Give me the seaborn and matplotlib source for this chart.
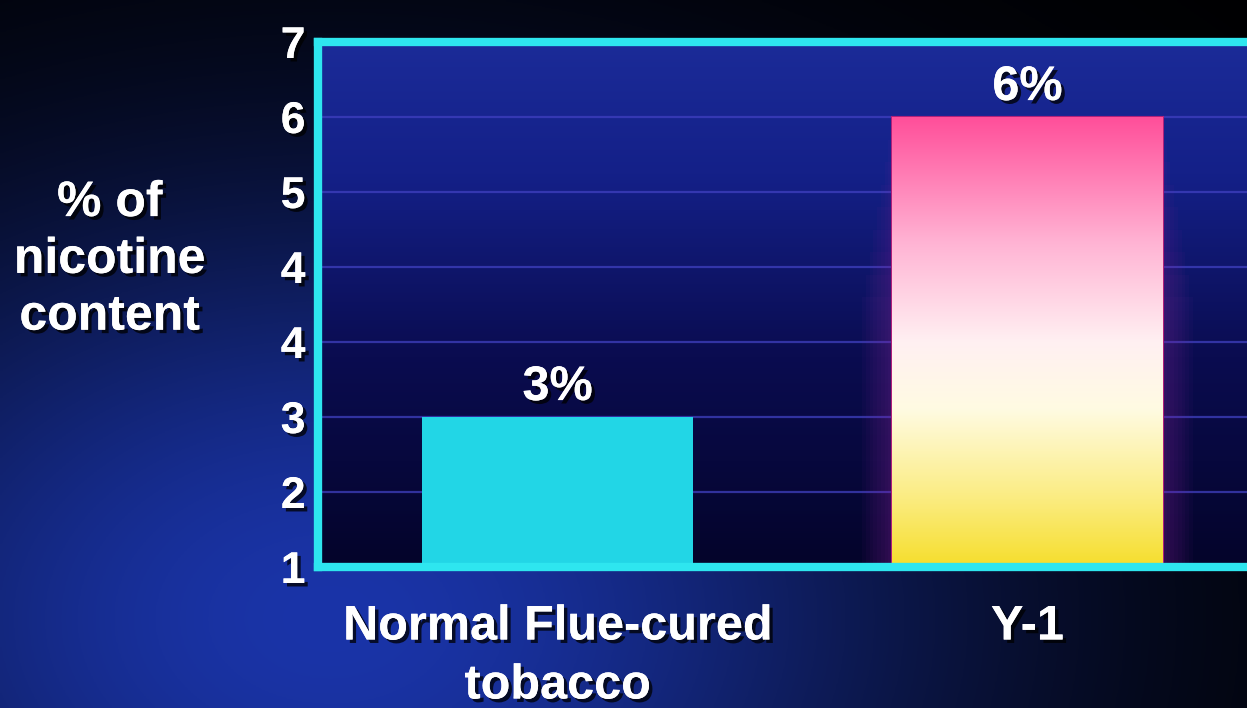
import numpy as np
import pandas as pd
import matplotlib
matplotlib.use("Agg")
import matplotlib.pyplot as plt
import matplotlib.patheffects as pe
from matplotlib.colors import LinearSegmentedColormap, to_rgb
import seaborn as sns

# data
CATEGORIES = ["Normal Flue-cured\ntobacco", "Y-1"]
NICOTINE_PCT = [3, 6]
BAR_LABELS = ["3%", "6%"]
Y_TICK_LABELS = ["1", "2", "3", "4", "4", "5", "6", "7"]
Y_LABEL = "% of\nnicotine\ncontent"

CYAN = "#2ee6ef"
BAR_COLORS = ["#22d6e6", "#ff5aa0"]

plt.rcParams["font.family"] = ["Liberation Sans", "DejaVu Sans"]
plt.rcParams["font.weight"] = "bold"

# the slide's axis is labelled 1,2,3,4,4,5,6,7 at even steps,
# so bars sit at the step of their label
positions = [Y_TICK_LABELS.index(str(v)) for v in NICOTINE_PCT]
df = pd.DataFrame({"tobacco": CATEGORIES, "level": positions})

shadow = [pe.withSimplePatchShadow(offset=(2.5, -2.5), shadow_rgbFace="black", alpha=0.75), pe.Normal()]

fig = plt.figure(figsize=(12.47, 7.08), dpi=100)

# background: blue glow lower-left fading to black
bg_ax = fig.add_axes([0, 0, 1, 1], zorder=-10)
gx, gy = np.meshgrid(np.linspace(0, 1247, 400), np.linspace(0, 708, 240))
w = np.exp(-(((gx - 330) / 620) ** 2 + ((gy - 620) / 430) ** 2))
blue = np.array(to_rgb("#1a34a8"))
bg = np.clip(w[..., None] * blue[None, None, :], 0, 1)
bg_ax.imshow(bg, extent=[0, 1, 0, 1], aspect="auto", origin="upper")
bg_ax.axis("off")

ax = fig.add_axes([318 / 1247, 141 / 708, (1300 - 318) / 1247, 525 / 708])
sns.barplot(
    data=df,
    x="tobacco",
    y="level",
    hue="tobacco",
    palette=BAR_COLORS,
    saturation=1,
    width=0.576,
    legend=False,
    ax=ax,
    zorder=2,
)

xlim = (-0.51, 1.58)
ylim = (0, len(Y_TICK_LABELS) - 1)

# plot-area gradient (dark navy at bottom, brighter blue at top)
area_cmap = LinearSegmentedColormap.from_list(
    "area", [(0, "#04042a"), (0.4, "#0a0c50"), (0.75, "#142088"), (1, "#1b2b98")]
)
ax.imshow(
    np.linspace(0, 1, 256)[:, None],
    extent=[*xlim, *ylim],
    aspect="auto",
    origin="lower",
    cmap=area_cmap,
    zorder=0,
)

# pink -> white -> yellow fill for the Y-1 bar
bar_cmap = LinearSegmentedColormap.from_list(
    "y1",
    [(0, "#f6de2c"), (0.15, "#fbec80"), (0.35, "#fffbe2"), (0.5, "#fff0f2"),
     (0.72, "#ffb4d4"), (1, "#ff4f9a")],
)
patch = ax.patches[1]
px, py = patch.get_x(), patch.get_y()
pw, ph = patch.get_width(), patch.get_height()
# soft purple halo round the bar
for k in range(8):
    d = 0.008 * (k + 1)
    ax.add_patch(plt.Rectangle((px - d, py), pw + 2 * d, ph * (0.95 - 0.05 * k),
                               color="#8a2aa0", alpha=0.05, lw=0, zorder=1))
ax.imshow(
    np.linspace(0, 1, 256)[:, None],
    extent=[px, px + pw, py, py + ph],
    aspect="auto",
    origin="lower",
    cmap=bar_cmap,
    zorder=2.5,
)
patch.set_edgecolor("#b0207a")
patch.set_linewidth(1.5)

ax.set_xlim(*xlim)
ax.set_ylim(*ylim)
ax.set_yticks(range(len(Y_TICK_LABELS)))
ax.set_yticklabels(Y_TICK_LABELS)

ax.set_axisbelow(True)
ax.yaxis.grid(True, color="#4040c0", lw=1.6, alpha=0.75)
ax.xaxis.grid(False)

for side in ["left", "top", "bottom"]:
    ax.spines[side].set_color(CYAN)
    ax.spines[side].set_linewidth(6)
    ax.spines[side].set_zorder(5)
ax.spines["right"].set_visible(False)

ax.tick_params(axis="y", length=0, pad=9, labelsize=32, labelcolor="white")
ax.tick_params(axis="x", length=0, pad=27, labelsize=35, labelcolor="white")
for lab in ax.get_yticklabels() + ax.get_xticklabels():
    lab.set_fontweight("bold")
    lab.set_path_effects(shadow)
for lab in ax.get_xticklabels():
    lab.set_linespacing(1.4)

ax.set_xlabel("")
ax.set_ylabel(Y_LABEL, rotation=0, fontsize=36, fontweight="bold", color="white",
              ha="center", va="center", linespacing=1.3)
ax.yaxis.set_label_coords(-0.212, 0.585)
ax.yaxis.label.set_path_effects(shadow)

for cont, text in zip(ax.containers, BAR_LABELS):
    for t in ax.bar_label(cont, labels=[text], padding=5, fontsize=35,
                          fontweight="bold", color="white"):
        t.set_path_effects(shadow)
        t.set_zorder(6)

fig.savefig("out.png", dpi=100, facecolor="black")
